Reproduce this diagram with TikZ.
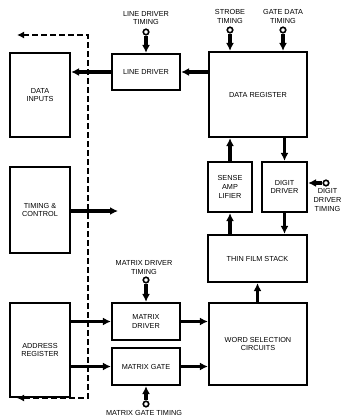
\documentclass[tikz,border=0pt]{standalone}
\usepackage{fontspec}
\setmainfont{Liberation Sans}
\usetikzlibrary{arrows.meta}
\begin{document}
\begin{tikzpicture}[x=1pt,y=-1pt,
	blk/.style={draw=black,line width=2.2pt,inner sep=0pt,align=center,
		font=\fontsize{7.3}{8.6}\selectfont},
	lbl/.style={align=center,inner sep=0pt,font=\fontsize{7.3}{8.6}\selectfont},
	flow/.style={-{Latex[length=8pt,width=8pt]},line width=3.2pt},
	term/.style={circle,draw=black,fill=white,line width=1.6pt,inner sep=0pt,minimum size=5.5pt}]
	\useasboundingbox[fill=white] (0,0) rectangle (343,417);
	
	% left column
	\node[blk,minimum width=60pt,minimum height=84pt] (datain) at (40,95) {DATA\\INPUTS};
	\node[blk,minimum width=60pt,minimum height=86pt] (timing) at (40,210) {TIMING \&\\CONTROL};
	\node[blk,minimum width=60pt,minimum height=94pt] (addr) at (40,350) {ADDRESS\\REGISTER};
	
	% middle column
	\node[blk,minimum width=68pt,minimum height=36pt] (linedrv) at (146,72) {LINE DRIVER};
	\node[blk,minimum width=68pt,minimum height=37pt] (mdrv) at (146,321.5) {MATRIX\\DRIVER};
	\node[blk,minimum width=68pt,minimum height=37pt] (mgate) at (146,366.5) {MATRIX GATE};
	
	% right column
	\node[blk,minimum width=98pt,minimum height=85pt] (datareg) at (258,94.5) {DATA REGISTER};
	\node[blk,minimum width=44pt,minimum height=50pt] (sense) at (230,187) {SENSE\\AMP\\LIFIER};
	\node[blk,minimum width=45pt,minimum height=50pt] (digit) at (284.5,187) {DIGIT\\DRIVER};
	\node[blk,minimum width=99pt,minimum height=47pt] (thin) at (257.5,258.5) {THIN FILM STACK};
	\node[blk,minimum width=98pt,minimum height=82pt] (word) at (258,344) {WORD SELECTION\\CIRCUITS};
	
	% timing inputs
	\node[term] (ldt) at (146,32) {};
	\node[lbl] (ldtl) at (146,18) {LINE DRIVER\\TIMING};
	\node[term] (stt) at (230,30) {};
	\node[lbl] (sttl) at (230,16.5) {STROBE\\TIMING};
	\node[term] (gdt) at (283,30) {};
	\node[lbl] (gdtl) at (283,16.5) {GATE DATA\\TIMING};
	\node[term] (ddt) at (326,183) {};
	\node[lbl] (ddtl) at (327.5,200) {DIGIT\\DRIVER\\TIMING};
	\node[term] (mdt) at (146,280) {};
	\node[lbl] (mdtl) at (144,267.5) {MATRIX DRIVER\\TIMING};
	\node[term] (mgt) at (146,404) {};
	\node[lbl] (mgtl) at (144,412.5) {MATRIX GATE TIMING};
	
	\draw[flow] (ldt) -- (linedrv.north);
	\draw[flow] (stt) -- (stt |- datareg.north);
	\draw[flow] (gdt) -- (gdt |- datareg.north);
	\draw[flow] (ddt) -- (ddt -| digit.east);
	\draw[flow] (mdt) -- (mdrv.north);
	\draw[flow] (mgt) -- (mgate.south);
	
	% data paths
	\draw[flow] (linedrv.west) -- (linedrv.west -| datain.east);
	\draw[flow] (linedrv.east -| datareg.west) -- (linedrv.east);
	\draw[flow] (sense.north) -- (sense.north |- datareg.south);
	\draw[flow] (digit.north |- datareg.south) -- (digit.north);
	\draw[flow] (sense.south |- thin.north) -- (sense.south);
	\draw[flow] (digit.south) -- (digit.south |- thin.north);
	\draw[flow] (word.north -| thin.south) -- (thin.south);
	\draw[flow] (addr.east |- mdrv) -- (mdrv.west);
	\draw[flow] (addr.east |- mgate) -- (mgate.west);
	\draw[flow] (mdrv.east) -- (mdrv.east -| word.west);
	\draw[flow] (mgate.east) -- (mgate.east -| word.west);
	\coordinate (tcend) at (118,211);
	\draw[flow] (timing.east |- tcend) -- (tcend);
	
	% control bus
	\coordinate (bustl) at (17,35);
	\coordinate (bustr) at (88,35);
	\coordinate (busbr) at (88,398);
	\coordinate (busbl) at (17,398);
	\draw[{Latex[length=7pt,width=7pt]}-{Latex[length=7pt,width=7pt]},line width=1.6pt,dash pattern=on 6pt off 3pt]
		(bustl) -- (bustr) -- (busbr) -- (busbl);
\end{tikzpicture}
\end{document}
